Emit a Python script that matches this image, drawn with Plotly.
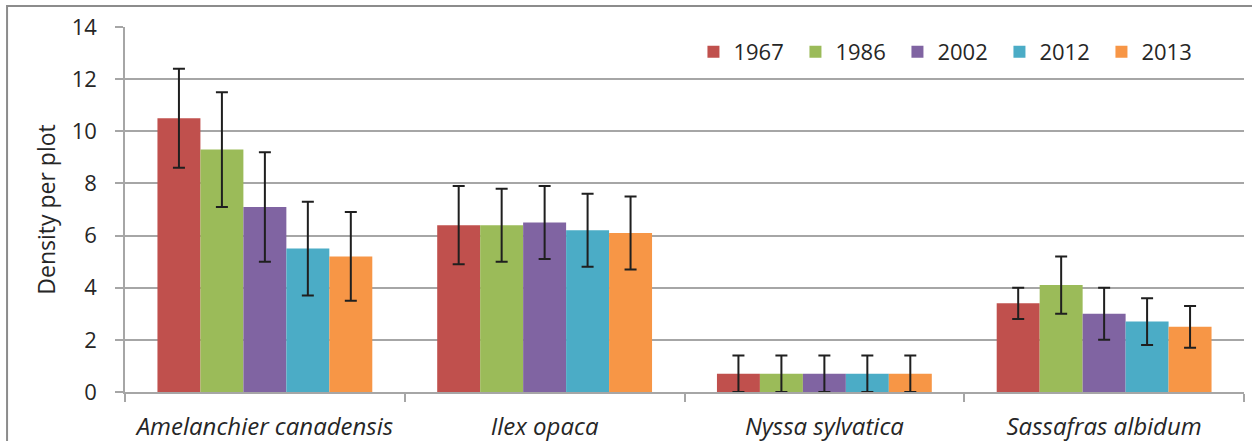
import plotly.graph_objects as go

species = ["Amelanchier canadensis", "Ilex opaca", "Nyssa sylvatica", "Sassafras albidum"]
years = ["1967", "1986", "2002", "2012", "2013"]
colors = ["#C0504D", "#9BBB59", "#8064A2", "#4BACC6", "#F79646"]

density = {
    "1967": [10.5, 6.4, 0.7, 3.4],
    "1986": [9.3, 6.4, 0.7, 4.1],
    "2002": [7.1, 6.5, 0.7, 3.0],
    "2012": [5.5, 6.2, 0.7, 2.7],
    "2013": [5.2, 6.1, 0.7, 2.5],
}
errors = {
    "1967": [1.9, 1.5, 0.7, 0.6],
    "1986": [2.2, 1.4, 0.7, 1.1],
    "2002": [2.1, 1.4, 0.7, 1.0],
    "2012": [1.8, 1.4, 0.7, 0.9],
    "2013": [1.7, 1.4, 0.7, 0.8],
}

y_ticks = [0, 2, 4, 6, 8, 10, 12, 14]

FONT = "'Open Sans', Lato, sans-serif"
TXT = "#262626"
GRID = "#A6A6A6"

fig = go.Figure()
for yr, col in zip(years, colors):
    fig.add_trace(go.Bar(
        name=yr,
        x=species,
        y=density[yr],
        marker=dict(color=col, line=dict(width=0)),
        error_y=dict(type="data", array=errors[yr], visible=True,
                     color="#1F1F1F", thickness=2, width=6),
    ))

fig.update_layout(
    width=1252, height=441,
    margin=dict(l=125, r=8, t=27, b=49),
    paper_bgcolor="white", plot_bgcolor="white",
    barmode="group", bargap=0.232, bargroupgap=0,
    font=dict(family=FONT, color=TXT, size=22),
    legend=dict(orientation="h", x=0.508, xanchor="left", y=0.9315, yanchor="middle",
                bgcolor="rgba(0,0,0,0)", font=dict(size=22, family=FONT, color=TXT),
                itemwidth=30, entrywidth=57, traceorder="normal"),
    showlegend=True,
    shapes=[dict(type="rect", xref="paper", yref="paper",
                 x0=-0.1054, x1=1.0098, y0=-0.16, y1=1.0575,
                 line=dict(color="#8C8C8C", width=2), fillcolor="rgba(0,0,0,0)", layer="below")],
)

fig.update_yaxes(
    range=[0, 14], tickvals=y_ticks, ticktext=[str(v) for v in y_ticks],
    showgrid=True, gridcolor=GRID, gridwidth=1.5,
    showline=True, linecolor=GRID, linewidth=1.5,
    ticks="outside", ticklen=8, tickcolor=GRID, tickwidth=1.5,
    ticklabelstandoff=14,
    tickfont=dict(size=22, family=FONT, color=TXT),
    title=dict(text="Density per plot", font=dict(size=23, family=FONT, color=TXT), standoff=10),
    zeroline=False, automargin=False,
)
fig.update_xaxes(
    showline=True, linecolor=GRID, linewidth=2,
    ticks="outside", ticklen=8, tickcolor=GRID, tickwidth=1.5,
    tickson="boundaries",
    tickfont=dict(size=24, family=FONT, color=TXT, style="italic"),
    ticklabelstandoff=12,
    automargin=False,
)

fig.write_html("out.html")
